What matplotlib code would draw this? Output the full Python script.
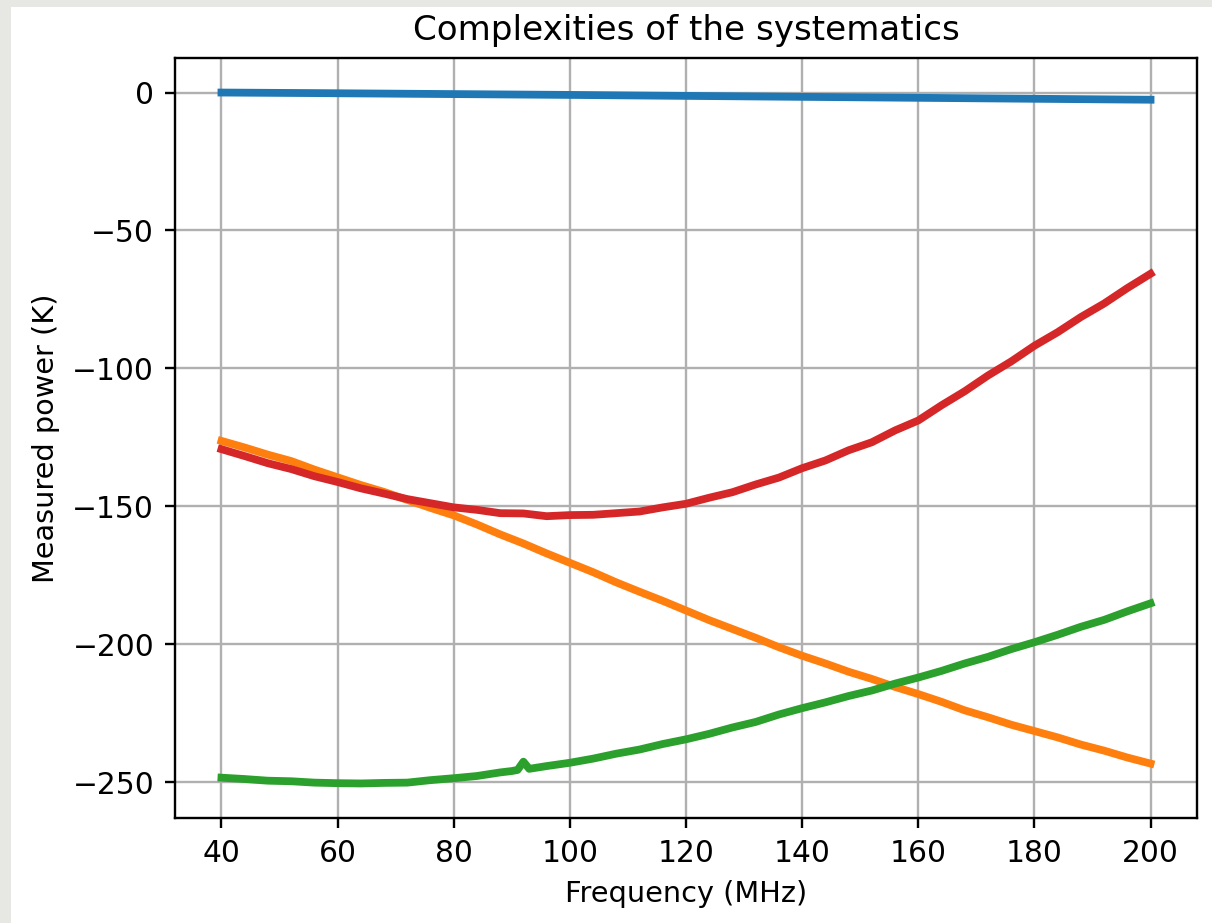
"""Complexities of the systematics: four systematic curves vs frequency."""

import matplotlib

matplotlib.use("Agg")
import matplotlib.pyplot as plt
from matplotlib.patches import Rectangle

# ---- data -----------------------------------------------------------------
FREQ = [40, 44, 48, 52, 56, 60, 64, 68, 72, 76, 80, 84, 88, 92, 96, 100,
        104, 108, 112, 116, 120, 124, 128, 132, 136, 140, 144, 148, 152, 156,
        160, 164, 168, 172, 176, 180, 184, 188, 192, 196, 200]

BLUE = [0.0, -0.05, -0.1, -0.15, -0.2, -0.26, -0.32, -0.38, -0.44, -0.5,
        -0.56, -0.62, -0.68, -0.74, -0.8, -0.86, -0.93, -1.0, -1.07, -1.14,
        -1.21, -1.28, -1.35, -1.42, -1.49, -1.56, -1.63, -1.7, -1.77, -1.84,
        -1.91, -1.98, -2.05, -2.12, -2.19, -2.26, -2.33, -2.4, -2.47, -2.54,
        -2.6]

ORANGE = [-126.3, -128.7, -131.3, -133.6, -136.7, -139.5, -142.3, -144.8,
          -147.7, -150.6, -153.3, -156.6, -160.2, -163.5, -167.1, -170.5,
          -173.9, -177.6, -181.0, -184.3, -187.8, -191.3, -194.5, -197.7,
          -201.1, -204.2, -207.0, -210.0, -212.6, -215.5, -218.1, -220.9,
          -224.0, -226.5, -229.2, -231.5, -233.8, -236.4, -238.6, -241.1,
          -243.3]

RED = [-129.3, -131.8, -134.4, -136.5, -139.1, -141.2, -143.5, -145.4,
       -147.4, -148.9, -150.4, -151.3, -152.5, -152.6, -153.6, -153.2,
       -153.1, -152.5, -151.9, -150.4, -149.1, -146.9, -144.9, -142.1,
       -139.6, -136.2, -133.4, -129.7, -126.8, -122.5, -118.9, -113.4,
       -108.3, -102.6, -97.5, -91.8, -86.9, -81.4, -76.5, -70.9, -65.7]

GREEN_FREQ = [40, 44, 48, 52, 56, 60, 64, 68, 72, 76, 80, 84, 88, 90, 91,
              92, 93, 96, 100, 104, 108, 112, 116, 120, 124, 128, 132, 136,
              140, 144, 148, 152, 156, 160, 164, 168, 172, 176, 180, 184,
              188, 192, 196, 200]

GREEN = [-248.4, -248.9, -249.5, -249.7, -250.2, -250.4, -250.5, -250.3,
         -250.2, -249.3, -248.6, -247.8, -246.5, -246.0, -245.6, -242.6,
         -245.2, -244.2, -243.0, -241.5, -239.7, -238.2, -236.2, -234.5,
         -232.5, -230.2, -228.2, -225.5, -223.2, -221.1, -218.8, -216.8,
         -214.3, -212.1, -209.7, -207.0, -204.6, -201.8, -199.3, -196.6,
         -193.7, -191.2, -188.1, -185.2]

X_TICKS = [40, 60, 80, 100, 120, 140, 160, 180, 200]
Y_TICKS = [0, -50, -100, -150, -200, -250]

# ---- figure -----------------------------------------------------------------
W, H = 1212, 923
S = 2.14  # screen scale of the original figure

fig = plt.figure(figsize=(W / 100, H / 100), dpi=100, facecolor="white")
# light grey page border on the left and top of the screenshot
fig.patches.append(Rectangle((0, 0), 11 / W, 1, transform=fig.transFigure,
                             facecolor="#e7e7e4", edgecolor="none",
                             zorder=-10))
fig.patches.append(Rectangle((0, 1 - 7 / H), 1, 7 / H,
                             transform=fig.transFigure, facecolor="#e7e7e4",
                             edgecolor="none", zorder=-10))

ax = fig.add_axes([175 / W, (H - 818) / H, (1197 - 175) / W, (818 - 58) / H])

lw = 5.6
ax.plot(FREQ, BLUE, color="#1f77b4", lw=lw)
ax.plot(FREQ, ORANGE, color="#ff7f0e", lw=lw)
ax.plot(GREEN_FREQ, GREEN, color="#2ca02c", lw=lw)
ax.plot(FREQ, RED, color="#d62728", lw=lw)

ax.set_xticks(X_TICKS)
ax.set_yticks(Y_TICKS)
ax.grid(True, color="#b0b0b0", lw=0.8 * S)
ax.set_axisbelow(True)
for sp in ax.spines.values():
    sp.set_linewidth(0.8 * S)
ax.tick_params(labelsize=10 * S, length=3.5 * S, width=0.8 * S,
               pad=3.5 * S)

ax.set_title("Complexities of the systematics", fontsize=24.6, pad=6 * S)
ax.set_xlabel("Frequency (MHz)", fontsize=20.7, labelpad=4 * S)
ax.set_ylabel("Measured power (K)", fontsize=20.7, labelpad=4 * S)

fig.savefig("out.png", dpi=100)
